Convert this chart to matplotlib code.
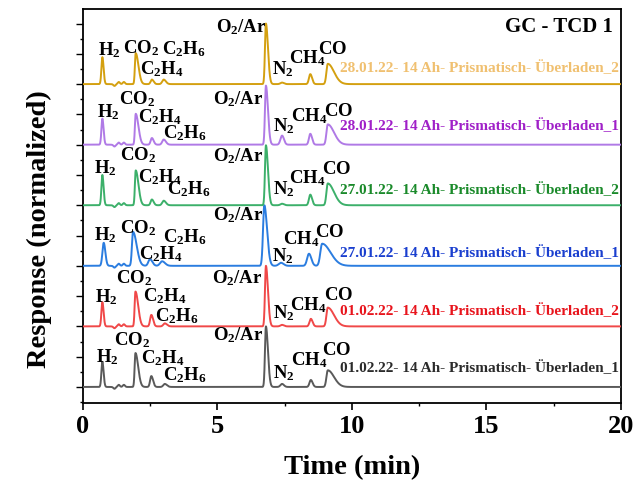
import numpy as np
import matplotlib
matplotlib.use("Agg")
import matplotlib.pyplot as plt
from matplotlib.ticker import MultipleLocator, NullFormatter

plt.rcParams['font.family'] = ['Liberation Serif', 'DejaVu Serif']
plt.rcParams['mathtext.fontset'] = 'custom'
plt.rcParams['mathtext.rm'] = 'Liberation Serif'
plt.rcParams['mathtext.bf'] = 'Liberation Serif:bold'
plt.rcParams['mathtext.it'] = 'Liberation Serif:italic'

# ---- chromatogram peak tables -------------------------------------------
compounds = ["H2", "CO2", "C2H4", "C2H6", "O2/Ar", "N2", "CH4", "CO"]
compound_tex = [r"$\mathbf{H_2}$", r"$\mathbf{CO_2}$", r"$\mathbf{C_2H_4}$",
                r"$\mathbf{C_2H_6}$", r"$\mathbf{O_2/Ar}$", r"$\mathbf{N_2}$",
                r"$\mathbf{CH_4}$", r"$\mathbf{CO}$"]

# samples listed bottom to top
samples = ["01.02.22- 14 Ah- Prismatisch- Überladen_1",
           "01.02.22- 14 Ah- Prismatisch- Überladen_2",
           "27.01.22- 14 Ah- Prismatisch- Überladen_1",
           "27.01.22- 14 Ah- Prismatisch- Überladen_2",
           "28.01.22- 14 Ah- Prismatisch- Überladen_1",
           "28.01.22- 14 Ah- Prismatisch- Überladen_2"]
offsets = [0, 2, 4, 6, 8, 10]

# retention times (min)
rt_01_1 = [0.72, 1.95, 2.54, 3.04, 6.80, 7.40, 8.47, 9.10]
rt_01_2 = [0.72, 1.95, 2.54, 3.04, 6.80, 7.40, 8.47, 9.10]
rt_27_1 = [0.77, 1.86, 2.49, 2.94, 6.74, 7.36, 8.40, 8.89]
rt_27_2 = [0.72, 1.96, 2.56, 3.00, 6.80, 7.40, 8.45, 9.10]
rt_28_1 = [0.72, 1.96, 2.56, 3.00, 6.80, 7.40, 8.45, 9.10]
rt_28_2 = [0.72, 1.96, 2.56, 3.00, 6.80, 7.40, 8.45, 9.10]

# normalized peak heights
h_01_1 = [0.83, 1.12, 0.36, 0.10, 2.00, 0.10, 0.23, 0.55]
h_01_2 = [0.80, 1.15, 0.38, 0.10, 2.00, 0.05, 0.25, 0.62]
h_27_1 = [0.76, 1.12, 0.22, 0.15, 2.00, 0.10, 0.40, 0.73]
h_27_2 = [1.00, 1.15, 0.19, 0.15, 1.98, 0.05, 0.35, 0.72]
h_28_1 = [0.86, 1.02, 0.22, 0.17, 1.95, 0.30, 0.36, 0.67]
h_28_2 = [0.89, 1.02, 0.15, 0.15, 2.00, 0.05, 0.33, 0.67]

retention = [rt_01_1, rt_01_2, rt_27_1, rt_27_2, rt_28_1, rt_28_2]
heights = [h_01_1, h_01_2, h_27_1, h_27_2, h_28_1, h_28_2]

# small baseline disturbances after H2 (time, amplitude)
disturb_t = [1.17, 1.33, 1.52]
disturb_a = [-0.06, 0.07, 0.07]

trace_colors = ['#5a5a5a', '#f04848', '#2b7de0', '#3cb06a', '#b07ae6', '#d4a010']
label_colors = ['#2b2b2b', '#e8141c', '#1a3fcf', '#1a8a2a', '#a020c8', '#f0c070']

# ---- peak shape (asymmetric Gaussian, tailing on the right) --------------
sig_left = [0.035, 0.030, 0.045, 0.055, 0.035, 0.060, 0.050, 0.050]
sig_right = [0.045, 0.100, 0.065, 0.080, 0.075, 0.070, 0.065, 0.230]
width_scale = [1.0, 1.0, 1.35, 1.0, 1.0, 1.0]

# label anchor positions (time, height) per sample, bottom to top
label_pos = [
    [(0.48, 0.83), (1.15, 1.39), (2.16, 0.79), (2.99, 0.21), (4.83, 1.55), (7.06, 0.30), (7.74, 0.72), (8.88, 1.04)],
    [(0.45, 2.80), (1.23, 3.43), (2.23, 2.82), (2.66, 2.16), (4.80, 3.43), (7.06, 2.26), (7.70, 2.52), (8.97, 2.86)],
    [(0.41, 4.85), (1.38, 5.08), (2.08, 4.22), (2.99, 4.77), (4.83, 5.51), (7.04, 4.14), (7.44, 4.70), (8.62, 4.96)],
    [(0.41, 7.06), (1.38, 7.49), (2.04, 6.75), (3.12, 6.36), (4.83, 7.46), (7.08, 6.36), (7.66, 6.74), (8.90, 7.02)],
    [(0.52, 8.91), (1.34, 9.34), (2.04, 8.73), (2.96, 8.20), (4.83, 9.34), (7.06, 8.44), (7.74, 8.76), (8.97, 8.96)],
    [(0.56, 10.96), (1.49, 11.02), (2.12, 10.33), (2.92, 10.98), (4.94, 11.72), (7.02, 10.31), (7.64, 10.68), (8.74, 10.98)],
]
sample_label_y = [0.40, 2.28, 4.19, 6.27, 8.38, 10.30]


def asym_peak(t, t0, h, sl, sr):
    s = np.where(t < t0, sl, sr)
    return h * np.exp(-0.5 * ((t - t0) / s) ** 2)


t = np.linspace(0, 20, 8001)

fig = plt.figure(figsize=(6.44, 4.88), dpi=100)
ax = fig.add_axes([83 / 644, 1 - 402.7 / 488, 538 / 644, 393.4 / 488])

for i in range(len(samples)):
    y = np.zeros_like(t)
    for k in range(len(compounds)):
        y += asym_peak(t, retention[i][k], heights[i][k],
                       sig_left[k] * width_scale[i], sig_right[k] * width_scale[i])
    for td, ad in zip(disturb_t, disturb_a):
        y += asym_peak(t, td, ad, 0.04, 0.04)
    ax.plot(t, y + offsets[i], color=trace_colors[i], lw=1.4, zorder=3)

    for k in range(len(compounds)):
        xl, yl = label_pos[i][k]
        ax.text(xl, yl, compound_tex[k], fontsize=13.5, color='black',
                ha='left', va='baseline', zorder=4)
    ax.text(19.93, sample_label_y[i], samples[i], fontsize=11, fontweight='bold',
            color=label_colors[i], ha='right', va='bottom', zorder=4)

ax.text(0.985, 0.98, "GC - TCD 1", transform=ax.transAxes, fontsize=15,
        fontweight='bold', ha='right', va='top')

ax.set_xlim(0, 20)
ax.set_ylim(-0.52, 12.47)
ax.xaxis.set_major_locator(MultipleLocator(5))
ax.xaxis.set_minor_locator(MultipleLocator(2.5))
ax.yaxis.set_major_locator(MultipleLocator(1))
ax.yaxis.set_minor_locator(MultipleLocator(0.5))
ax.yaxis.set_major_formatter(NullFormatter())
ax.tick_params(axis='x', which='major', direction='out', length=5, width=1.2,
               labelsize=19, pad=4)
ax.tick_params(axis='x', which='minor', direction='out', length=2.5, width=1.0)
ax.tick_params(axis='y', which='major', direction='out', length=5, width=1.0)
ax.tick_params(axis='y', which='minor', direction='out', length=2.5, width=1.0)
for lab in ax.get_xticklabels():
    lab.set_fontweight('bold')
for sp in ax.spines.values():
    sp.set_linewidth(1.3)

ax.set_xlabel("Time (min)", fontsize=20.5, fontweight='bold', labelpad=12)
ax.set_ylabel("Response (normalized)", fontsize=20.5, fontweight='bold')
ax.yaxis.set_label_coords(-0.058, 0.44)

fig.savefig("out.png", dpi=100)
